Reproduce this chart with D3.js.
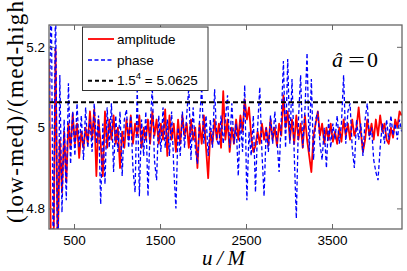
<!DOCTYPE html>
<html><head><meta charset="utf-8">
<script src="https://cdn.jsdelivr.net/npm/d3@7"></script>
<style>body{margin:0;background:#fff} svg{display:block}</style>
</head><body><svg id="c" width="407" height="271"></svg>
<script>
const U_START = 210, U_STEP = 25;
const amplitude = [
5.17,4.60,4.65,5.195,4.70,4.97,4.84,4.99,4.865,5.01,
4.95,5.035,4.96,5.01,4.925,4.99,4.95,5.00,4.96,5.04,
4.97,5.045,4.88,5.02,4.96,4.88,5.04,4.95,5.02,4.97,
5.03,4.96,5.00,4.90,4.99,4.95,5.02,4.97,5.03,4.96,
5.01,4.98,5.03,4.95,5.00,4.97,5.02,4.96,5.04,4.98,
5.02,4.96,5.01,4.97,5.045,4.93,5.03,4.97,5.01,4.94,
5.02,4.96,5.03,4.98,5.01,4.95,5.02,4.97,5.00,4.90,
5.01,4.96,5.03,4.95,4.875,4.99,4.96,5.02,4.97,5.01,
4.95,5.09,4.97,5.02,4.94,5.00,4.96,5.02,4.97,5.03,
4.99,5.07,5.02,5.05,4.98,4.94,4.955,4.99,4.96,5.01,
4.97,5.00,4.955,5.02,4.97,5.00,4.955,5.01,4.98,5.08,
5.00,5.04,4.97,5.02,4.96,5.03,4.97,5.01,4.95,5.03,
4.97,4.93,4.89,4.98,5.01,5.04,4.98,5.01,4.96,5.00,
4.97,5.01,4.965,4.99,4.96,5.00,4.965,5.02,4.98,5.01,
4.97,5.02,4.98,5.00,5.05,4.99,4.94,4.97,5.02,4.98,
5.01,4.97,5.02,4.98,5.03,4.99,5.01,4.97,4.96,5.00,
4.975,5.02,5.00,5.04,5.03];
const phase = [
5.0,5.35,4.6,5.35,4.6,5.13,4.79,5.02,4.82,5.11,
4.91,5.04,4.93,5.06,4.95,5.03,4.92,5.05,4.95,5.02,
4.94,5.06,4.96,5.03,4.81,5.01,4.86,5.05,4.95,5.06,
4.89,5.03,4.94,5.04,4.88,5.02,5.045,4.95,5.03,4.90,
4.84,5.10,4.83,5.02,4.93,5.04,4.83,5.00,5.10,4.92,
4.87,5.03,4.94,5.05,4.95,5.02,4.93,5.04,4.90,4.80,
5.00,4.93,5.04,4.95,5.03,5.10,4.92,5.05,4.95,4.91,
5.02,5.10,4.96,5.03,4.93,5.02,4.95,5.095,4.97,4.955,
5.03,4.96,5.02,5.08,4.95,5.06,4.96,5.01,4.88,5.02,
4.94,5.105,4.82,4.99,4.93,5.03,4.84,5.00,5.10,4.94,
4.83,5.00,4.94,5.03,4.96,5.04,4.97,4.89,5.02,5.165,
4.95,5.17,4.96,5.12,4.94,4.775,5.02,5.13,4.95,5.04,
5.185,4.94,5.12,4.92,5.02,5.04,4.96,4.92,5.00,4.90,
5.02,4.95,5.01,4.97,5.03,4.96,5.01,5.13,4.96,5.04,
5.06,4.95,4.90,5.02,4.97,5.01,4.93,5.02,5.06,4.97,
5.00,4.92,4.89,4.87,4.95,5.01,4.96,5.02,4.97,5.03,
4.98,5.01,4.97,5.02,4.99];
const xTicks = [500, 1500, 2500, 3500];
const yTicks = [4.8, 5, 5.2];
const refValue = 5.0625;
const u = amplitude.map((_, i) => U_START + U_STEP * i);

const svg = d3.select("#c");
svg.append("rect").attr("width", 407).attr("height", 271).attr("fill", "#fff");
const L = 49, R = 402, T = 25, B = 229;
const x = d3.scaleLinear().domain([209, 4314]).range([L, R]);
const y = d3.scaleLinear().domain([4.749, 5.254]).range([B, T]);

svg.append("defs").append("clipPath").attr("id", "clip")
  .append("rect").attr("x", L).attr("y", T).attr("width", R - L).attr("height", B - T);

const line = d3.line().x((d, i) => x(u[i])).y(d => y(d));
const g = svg.append("g").attr("clip-path", "url(#clip)");
g.append("path").datum(amplitude).attr("d", line)
  .attr("fill", "none").attr("stroke", "#ff0000").attr("stroke-width", 1.8).attr("stroke-linejoin", "round");
g.append("path").datum(phase).attr("d", line)
  .attr("fill", "none").attr("stroke", "#0000ff").attr("stroke-width", 1.3).attr("stroke-dasharray", "4,2.5");
g.append("line").attr("x1", L).attr("x2", R).attr("y1", y(refValue)).attr("y2", y(refValue))
  .attr("stroke", "#000").attr("stroke-width", 2).attr("stroke-dasharray", "5,3");

const axColor = "#666";
function styleAxis(sel) {
  sel.select(".domain").remove();
  sel.selectAll(".tick line").attr("stroke", axColor);
  sel.selectAll(".tick text").attr("fill", "#000").style("font-family", "'Liberation Sans', Arial, sans-serif").style("font-size", "13.5px");
}
svg.append("g").attr("transform", `translate(0,${B})`)
  .call(d3.axisBottom(x).tickValues(xTicks).tickSize(-5).tickPadding(6).tickFormat(d3.format("d"))).call(styleAxis);
svg.append("g").attr("transform", `translate(0,${T})`)
  .call(d3.axisTop(x).tickValues(xTicks).tickSize(-5).tickFormat("")).call(styleAxis);
svg.append("g").attr("transform", `translate(${L},0)`)
  .call(d3.axisLeft(y).tickValues(yTicks).tickSize(-5).tickPadding(4).tickFormat(d => d === 5 ? "5" : d3.format(".1f")(d))).call(styleAxis);
svg.append("g").attr("transform", `translate(${R},0)`)
  .call(d3.axisRight(y).tickValues(yTicks).tickSize(-5).tickFormat("")).call(styleAxis);
svg.append("rect").attr("x", L).attr("y", T).attr("width", R - L).attr("height", B - T)
  .attr("fill", "none").attr("stroke", axColor).attr("stroke-width", 1.3);

// legend
const lg = svg.append("g");
lg.append("rect").attr("x", 82.5).attr("y", 27).attr("width", 125.5).attr("height", 63.5)
  .attr("fill", "#fff").attr("stroke", "#333").attr("stroke-width", 1);
const legendItems = [
  {color: "#ff0000", dash: null, w: 1.8, y: 39},
  {color: "#0000ff", dash: "4,2.5", w: 1.3, y: 60},
  {color: "#000", dash: "4,3", w: 2, y: 80.7}
];
legendItems.forEach(it => {
  lg.append("line").attr("x1", 88).attr("x2", 114).attr("y1", it.y).attr("y2", it.y)
    .attr("stroke", it.color).attr("stroke-width", it.w).attr("stroke-dasharray", it.dash);
});
const lf = "'Liberation Sans', Arial, sans-serif";
lg.append("text").attr("x", 117).attr("y", 43.8).text("amplitude").style("font-family", lf).style("font-size", "13.5px");
lg.append("text").attr("x", 117).attr("y", 64.5).text("phase").style("font-family", lf).style("font-size", "13.5px");
const t3 = lg.append("text").attr("x", 117).attr("y", 85.3).style("font-family", lf).style("font-size", "13.5px");
t3.append("tspan").text("1.5");
t3.append("tspan").attr("dy", -6).style("font-size", "9.5px").text("4");
t3.append("tspan").attr("dy", 6).text(" = 5.0625");

// annotation
const sf = "'Liberation Serif', 'Times New Roman', serif";
svg.append("text").attr("x", 332).attr("y", 66.7).text("\u00e2").style("font-family", sf).style("font-style", "italic").style("font-size", "22px");
svg.append("text").attr("x", 348).attr("y", 66.7).attr("textLength", 17).attr("lengthAdjust", "spacingAndGlyphs").text("=").style("font-family", sf).style("font-size", "22px");
svg.append("text").attr("x", 367).attr("y", 66.7).text("0").style("font-family", sf).style("font-size", "22px");

// axis labels
svg.append("text").attr("x", 202).attr("y", 265).attr("textLength", 43).attr("lengthAdjust", "spacing")
  .text("u/M").style("font-family", sf).style("font-style", "italic").style("font-size", "21px");
svg.append("text").attr("transform", "translate(23,223) rotate(-90)").attr("textLength", 231).attr("lengthAdjust", "spacing")
  .text("(low-med)/(med-high)").style("font-family", sf).style("font-size", "23px");
</script></body></html>
